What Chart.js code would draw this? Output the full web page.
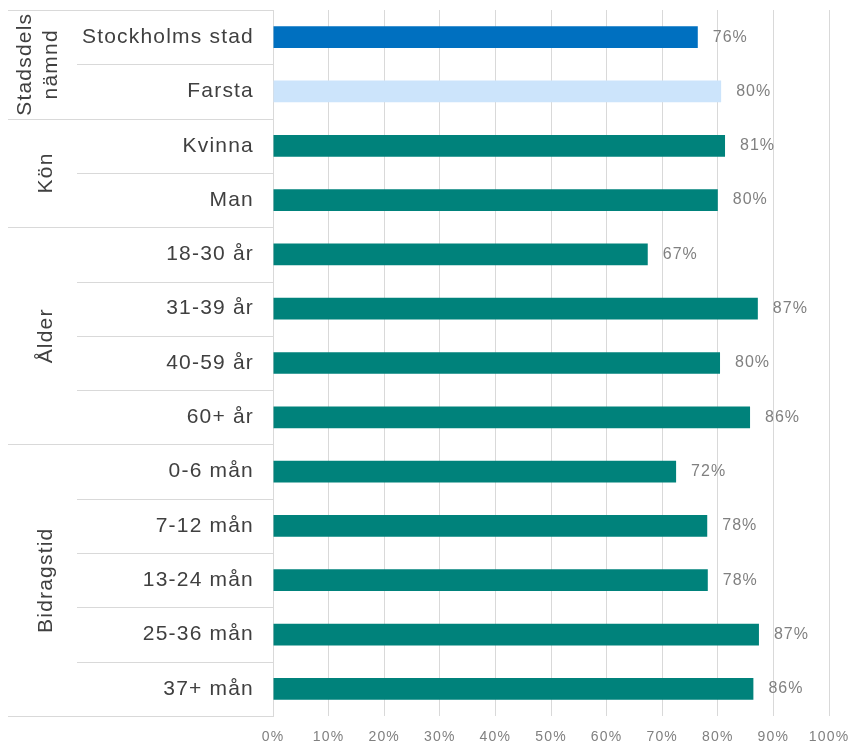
<!DOCTYPE html>
<html>
<head>
<meta charset="utf-8">
<script src="https://cdn.jsdelivr.net/npm/chart.js@4"></script>
<style>
  html, body { margin: 0; padding: 0; background: #fff; }
  #wrap { width: 851px; height: 743px; position: relative; }
</style>
</head>
<body>
<div id="wrap"><canvas id="chart"></canvas></div>
<script>
// Data
const categories = ['Stockholms stad', 'Farsta', 'Kvinna', 'Man', '18-30 år', '31-39 år', '40-59 år', '60+ år',
  '0-6 mån', '7-12 mån', '13-24 mån', '25-36 mån', '37+ mån'];
const values = [76.4, 80.6, 81.3, 80.0, 67.4, 87.2, 80.4, 85.8, 72.5, 78.1, 78.2, 87.4, 86.4];
const valueLabels = ['76%', '80%', '81%', '80%', '67%', '87%', '80%', '86%', '72%', '78%', '78%', '87%', '86%'];
const groups = [['Stadsdels', 'nämnd'], ['Kön'], ['Ålder'], ['Bidragstid']];
const groupSizes = [2, 2, 4, 5];
const xTicks = [0, 10, 20, 30, 40, 50, 60, 70, 80, 90, 100];

const barColors = categories.map((c, i) => i === 0 ? '#0070C0' : (i === 1 ? '#CCE4FB' : '#00827B'));
const lineColor = '#d9d9d9';
const textColor = '#404040';
const fontFamily = '"Liberation Sans", Arial, sans-serif';

// letter spacing used by the axis text
const spacing = {
  id: 'spacing',
  beforeUpdate(chart) { chart.ctx.letterSpacing = '1.2px'; },
  beforeDraw(chart) { chart.ctx.letterSpacing = '1.2px'; }
};

// table lines on the left, group labels and value labels
const tableParts = {
  id: 'tableParts',
  afterDraw(chart) {
    const ctx = chart.ctx;
    const y = chart.scales.y;
    const left = chart.chartArea.left;
    const step = y.getPixelForValue(1) - y.getPixelForValue(0);
    ctx.save();
    ctx.strokeStyle = lineColor;
    ctx.lineWidth = 1;

    let start = 0;
    groups.forEach((g, gi) => {
      const top = y.getPixelForValue(start) - step / 2;
      const bottom = y.getPixelForValue(start + groupSizes[gi] - 1) + step / 2;
      // group borders
      ctx.beginPath();
      ctx.moveTo(8, Math.round(top) + 0.5);
      ctx.lineTo(left, Math.round(top) + 0.5);
      if (gi === groups.length - 1) {
        ctx.moveTo(8, Math.round(bottom) + 0.5);
        ctx.lineTo(left, Math.round(bottom) + 0.5);
      }
      ctx.stroke();
      // inner category borders
      for (let k = 1; k < groupSizes[gi]; k++) {
        const yy = Math.round(y.getPixelForValue(start + k) - step / 2) + 0.5;
        ctx.beginPath();
        ctx.moveTo(77, yy);
        ctx.lineTo(left, yy);
        ctx.stroke();
      }
      // group label
      ctx.save();
      ctx.fillStyle = textColor;
      ctx.font = '21px ' + fontFamily;
      ctx.letterSpacing = '1.2px';
      ctx.textAlign = 'center';
      ctx.textBaseline = 'middle';
      const cy = (top + bottom) / 2;
      ctx.translate(g.length > 1 ? 38 : 46, cy);
      ctx.rotate(-Math.PI / 2);
      g.forEach((line, li) => {
        ctx.fillText(line, 0, (li - (g.length - 1) / 2) * 26);
      });
      ctx.restore();
      start += groupSizes[gi];
    });

    // value labels
    ctx.fillStyle = '#808080';
    ctx.font = '16px ' + fontFamily;
    ctx.letterSpacing = '1px';
    ctx.textAlign = 'left';
    ctx.textBaseline = 'middle';
    chart.getDatasetMeta(0).data.forEach((bar, i) => {
      ctx.fillText(valueLabels[i], bar.x + 15, bar.y);
    });
    ctx.restore();
  }
};

new Chart(document.getElementById('chart'), {
  type: 'bar',
  data: {
    labels: categories,
    datasets: [{
      data: values,
      backgroundColor: barColors,
      borderWidth: 0,
      categoryPercentage: 1,
      barPercentage: 0.4
    }]
  },
  options: {
    indexAxis: 'y',
    responsive: true,
    maintainAspectRatio: false,
    animation: false,
    layout: { padding: { top: 10, right: 0, left: 0, bottom: 0 } },
    plugins: {
      legend: { display: false },
      tooltip: { enabled: false }
    },
    scales: {
      x: {
        min: 0,
        max: 100,
        afterBuildTicks: axis => { axis.ticks = xTicks.map(v => ({ value: v })); },
        afterFit: scale => { scale.paddingRight = 22; scale.paddingLeft = 0; scale.height = 27; },
        grid: { color: lineColor, drawTicks: false },
        border: { display: false },
        ticks: {
          padding: 13,
          color: '#808080',
          maxRotation: 0,
          font: { family: fontFamily, size: 14 },
          callback: v => v + '%'
        }
      },
      y: {
        grid: { display: false, drawTicks: false },
        border: { display: true, color: lineColor },
        afterFit: scale => { scale.width = 273; scale.paddingTop = 0; scale.paddingBottom = 0; },
        ticks: {
          padding: 19,
          color: textColor,
          font: { family: fontFamily, size: 21 }
        }
      }
    }
  },
  plugins: [spacing, tableParts]
});
</script>
</body>
</html>
